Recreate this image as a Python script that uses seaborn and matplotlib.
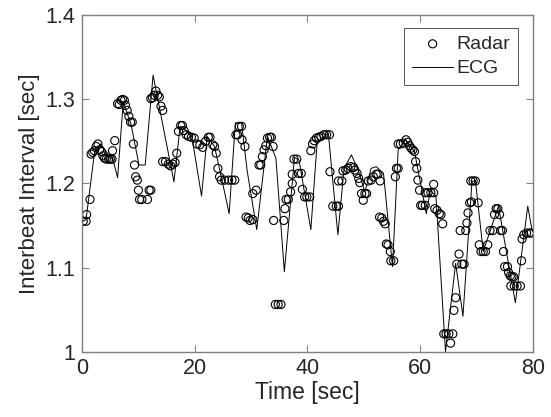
import numpy as np
import pandas as pd
import matplotlib
matplotlib.use("Agg")
import matplotlib.pyplot as plt
import seaborn as sns

# Radar-derived interbeat intervals
radar_t = [0.2, 0.7, 0.8, 1.4, 1.6, 1.9, 2.2, 2.5, 2.8, 3.1, 3.4, 3.7, 4.0, 4.3, 4.7, 5.0, 5.3, 5.4, 5.8,
           6.3, 6.6, 6.9, 7.2, 7.5, 7.7, 8.0, 8.3, 8.6, 8.9, 9.1, 9.3, 9.5, 9.8, 10.0, 10.2, 10.6, 11.6,
           11.9, 12.2, 12.2, 12.5, 12.8, 13.1, 13.4, 13.7, 14.0, 14.3, 14.3, 14.8, 15.3, 15.7, 16.1, 16.5,
           16.8, 17.1, 17.5, 17.8, 18.1, 18.5, 18.9, 19.4, 19.9, 20.4, 20.9, 21.4, 21.9, 22.4, 22.7, 23.2,
           23.5, 23.8, 24.1, 24.4, 24.7, 25.3, 26.0, 26.6, 27.1, 27.3, 27.6, 27.9, 28.3, 28.4, 28.9, 29.1,
           29.5, 29.8, 30.3, 30.3, 30.9, 31.4, 31.7, 32.0, 32.3, 32.6, 32.9, 33.3, 33.6, 33.9, 34.0, 34.3,
           34.8, 35.3, 35.8, 36.0, 36.2, 36.6, 37.0, 37.3, 37.3, 37.6, 38.1, 38.4, 38.9, 39.1, 39.5, 39.9,
           40.4, 40.6, 40.9, 41.2, 41.6, 42.0, 42.4, 42.9, 43.4, 43.9, 44.0, 44.5, 45.1, 45.5, 45.5, 46.1,
           46.3, 46.8, 47.2, 47.7, 48.2, 48.4, 48.8, 49.1, 49.3, 49.6, 49.9, 50.2, 50.5, 50.8, 51.3, 51.7,
           52.2, 52.5, 52.9, 52.8, 53.2, 53.5, 53.8, 54.0, 54.3, 54.7, 54.8, 55.3, 55.6, 55.8, 56.1, 56.1,
           56.5, 57.0, 57.5, 57.8, 58.1, 58.4, 58.7, 59.0, 59.2, 59.4, 59.6, 59.9, 60.1, 60.4, 60.9, 60.9,
           61.4, 61.9, 62.4, 62.4, 62.6, 63.0, 63.4, 63.7, 64.0, 64.2, 64.6, 65.1, 65.4, 65.8, 66.0, 66.3,
           66.5, 66.9, 67.4, 67.8, 67.1, 68.1, 68.3, 68.5, 68.8, 69.1, 69.0, 69.4, 69.8, 70.3, 70.5, 70.8,
           71.2, 71.6, 72.0, 72.4, 72.9, 73.2, 73.5, 73.8, 74.1, 74.3, 74.6, 74.8, 75.0, 75.5, 75.7, 76.0,
           76.3, 76.6, 76.1, 76.7, 77.2, 77.8, 78.0, 78.1, 78.4, 78.9, 79.4, 79.7]
radar_ibi = [1.155, 1.155, 1.163, 1.181, 1.235, 1.237, 1.239, 1.244, 1.247, 1.240, 1.238, 1.233, 1.230,
             1.229, 1.229, 1.229, 1.229, 1.239, 1.251, 1.295, 1.294, 1.299, 1.300, 1.299, 1.293, 1.287,
             1.280, 1.273, 1.273, 1.247, 1.222, 1.208, 1.204, 1.192, 1.181, 1.181, 1.181, 1.192, 1.192,
             1.301, 1.302, 1.305, 1.310, 1.305, 1.303, 1.292, 1.287, 1.226, 1.226, 1.223, 1.221, 1.223,
             1.225, 1.236, 1.262, 1.269, 1.269, 1.263, 1.258, 1.256, 1.255, 1.254, 1.247, 1.246, 1.243,
             1.250, 1.255, 1.255, 1.246, 1.244, 1.236, 1.218, 1.208, 1.204, 1.204, 1.204, 1.204, 1.204,
             1.258, 1.258, 1.268, 1.268, 1.252, 1.244, 1.160, 1.159, 1.156, 1.157, 1.188, 1.192, 1.222,
             1.222, 1.232, 1.240, 1.245, 1.254, 1.255, 1.255, 1.244, 1.156, 1.056, 1.056, 1.056, 1.156,
             1.170, 1.181, 1.181, 1.190, 1.200, 1.211, 1.229, 1.229, 1.212, 1.212, 1.193, 1.184, 1.184,
             1.184, 1.239, 1.247, 1.251, 1.254, 1.255, 1.256, 1.258, 1.258, 1.258, 1.214, 1.173, 1.173,
             1.173, 1.203, 1.203, 1.215, 1.216, 1.218, 1.220, 1.219, 1.216, 1.212, 1.206, 1.201, 1.188,
             1.180, 1.188, 1.188, 1.203, 1.204, 1.208, 1.211, 1.211, 1.203, 1.160, 1.159, 1.155, 1.152,
             1.128, 1.127, 1.119, 1.108, 1.108, 1.208, 1.218, 1.218, 1.247, 1.247, 1.248, 1.252, 1.249,
             1.245, 1.242, 1.240, 1.238, 1.226, 1.218, 1.204, 1.192, 1.174, 1.174, 1.174, 1.189, 1.189,
             1.189, 1.189, 1.199, 1.170, 1.168, 1.164, 1.163, 1.152, 1.021, 1.021, 1.021, 1.010, 1.021,
             1.049, 1.064, 1.104, 1.116, 1.104, 1.104, 1.144, 1.144, 1.153, 1.165, 1.177, 1.178, 1.203,
             1.203, 1.203, 1.177, 1.127, 1.119, 1.119, 1.119, 1.127, 1.144, 1.144, 1.163, 1.170, 1.170,
             1.163, 1.144, 1.144, 1.119, 1.101, 1.101, 1.094, 1.090, 1.089, 1.089, 1.078, 1.078, 1.078,
             1.078, 1.108, 1.134, 1.139, 1.141, 1.141, 1.141]

# ECG reference interbeat intervals
ecg_t = [0.0, 0.7, 2.2, 3.3, 4.5, 5.5, 6.3, 7.3, 8.7, 10.1, 11.2, 12.6, 16.3, 17.4, 18.0, 19.5, 21.2,
         22.2, 23.5, 24.8, 26.1, 27.2, 28.3, 29.3, 31.0, 32.9, 34.4, 35.9, 37.7, 38.5, 40.6, 41.7, 43.7,
         45.4, 46.5, 47.8, 49.0, 50.2, 51.3, 52.2, 53.5, 55.1, 56.1, 57.4, 59.0, 61.1, 61.8, 62.8, 64.5,
         66.3, 67.6, 69.2, 69.8, 71.2, 73.9, 76.9, 79.1, 79.9]
ecg_ibi = [1.155, 1.157, 1.237, 1.247, 1.236, 1.228, 1.207, 1.297, 1.270, 1.222, 1.222, 1.329, 1.202,
           1.268, 1.266, 1.255, 1.185, 1.256, 1.244, 1.205, 1.164, 1.272, 1.272, 1.215, 1.145, 1.256,
           1.230, 1.095, 1.231, 1.228, 1.145, 1.247, 1.260, 1.139, 1.218, 1.234, 1.216, 1.190, 1.218,
           1.220, 1.212, 1.101, 1.240, 1.252, 1.238, 1.164, 1.192, 1.185, 1.000, 1.105, 1.042, 1.202,
           1.204, 1.119, 1.173, 1.058, 1.173, 1.143]

radar = pd.DataFrame({"t": radar_t, "ibi": radar_ibi})
ecg = pd.DataFrame({"t": ecg_t, "ibi": ecg_ibi})

sns.set_style("ticks")
plt.rcParams["font.family"] = ["Liberation Sans", "DejaVu Sans"]
grey = "#262626"

fig = plt.figure(figsize=(5.51, 4.17), dpi=100)
ax = fig.add_axes([0.149, 0.157, 0.818, 0.806])

sns.scatterplot(data=radar, x="t", y="ibi", ax=ax, marker="o", s=34,
                facecolor="none", edgecolor="black", linewidth=0.8, label="Radar", zorder=2)
sns.lineplot(data=ecg, x="t", y="ibi", ax=ax, color="black", linewidth=0.7,
             label="ECG", zorder=3, sort=False)

ax.set_xlim(0, 80)
ax.set_ylim(1.0, 1.4)
ax.set_xticks([0, 20, 40, 60, 80])
ax.set_yticks([1.0, 1.1, 1.2, 1.3, 1.4])
ax.set_yticklabels(["1", "1.1", "1.2", "1.3", "1.4"])
ax.tick_params(direction="in", length=5, width=0.8, color="#808080", labelcolor=grey,
               labelsize=15.5, top=True, right=True, pad=5)
for sp in ax.spines.values():
    sp.set_visible(True)
    sp.set_color("#808080")
    sp.set_linewidth(1.0)

ax.set_xlabel("Time [sec]", fontsize=16.5, color=grey, labelpad=1)
ax.set_ylabel("Interbeat Interval [sec]", fontsize=16, color=grey, labelpad=4)

leg = ax.legend(loc="upper right", bbox_to_anchor=(0.967, 0.964), borderaxespad=0,
                fontsize=14, frameon=True, fancybox=False, edgecolor=grey,
                handlelength=2.15, borderpad=0.4, labelspacing=0.35, handletextpad=0.15)
leg.get_frame().set_linewidth(0.7)
for txt in leg.get_texts():
    txt.set_color(grey)

fig.savefig("out.png", dpi=100)
